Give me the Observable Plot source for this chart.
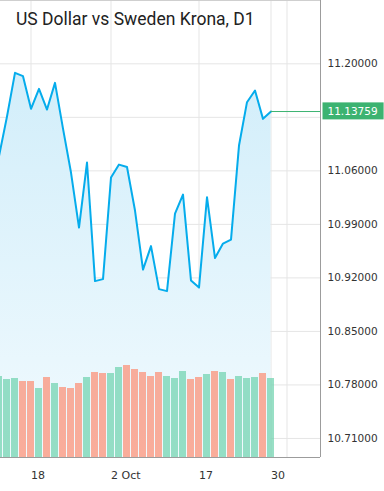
<!DOCTYPE html>
<html><head><meta charset="utf-8">
<script src="https://cdn.jsdelivr.net/npm/d3@7"></script>
<script src="https://cdn.jsdelivr.net/npm/@observablehq/plot@0.6"></script>
<style>
html,body{margin:0;padding:0;background:#fff;}
#chart{position:relative;width:384px;height:491px;overflow:hidden;}
#chart svg{position:absolute;left:0;top:0;}
#title{position:absolute;left:16px;top:9px;font-family:Roboto;font-size:17.5px;line-height:20px;color:#222;white-space:nowrap;z-index:5;}
</style></head><body>
<div id="chart"><div id="title"></div></div>
<script>
// ---- data (USD/SEK daily) ----
const dates = ["2023-09-12","2023-09-13","2023-09-14","2023-09-15","2023-09-18","2023-09-19","2023-09-20","2023-09-21","2023-09-22",
  "2023-09-25","2023-09-26","2023-09-27","2023-09-28","2023-09-29","2023-10-02","2023-10-03","2023-10-04","2023-10-05","2023-10-06",
  "2023-10-09","2023-10-10","2023-10-11","2023-10-12","2023-10-13","2023-10-16","2023-10-17","2023-10-18","2023-10-19","2023-10-20",
  "2023-10-23","2023-10-24","2023-10-25","2023-10-26","2023-10-27","2023-10-30"];
const closes = [11.0792,11.1310,11.1882,11.1838,11.1411,11.1673,11.1402,11.1751,11.1153,
  11.0578,10.9858,11.0709,10.9158,10.9184,11.0512,11.0682,11.0650,11.0081,10.9309,
  10.9616,10.9053,10.9027,11.0041,11.0290,10.9165,10.9073,11.0255,10.9459,10.9649,
  10.9701,11.0931,11.1498,11.1651,11.1280,11.13759];
const volumes = [81,78,79,76,76,69,80,74,70,
  69,74,80,85,84,84,90,92,88,85,
  81,85,81,79,86,78,80,83,86,85,
  78,81,79,80,84,79];
const direction = ["up","up","up","down","down","up","down","up","down",
  "down","down","up","down","down","up","up","down","down","down",
  "down","down","up","up","up","down","down","up","down","up",
  "down","up","up","up","down","up"];
const yTicks = [10.71,10.78,10.85,10.92,10.99,11.06,11.13,11.20];
const xTickDates = ["2023-09-18","2023-10-02","2023-10-17","2023-10-30","2023-11-01"];
const xTickLabels = ["18","2 Oct","17","30",""];
const lastPrice = 11.13759;
const title = "US Dollar vs Sweden Krona, D1";

// ---- layout / scales ----
const W = 384, H = 491;
const margins = {marginTop:0, marginRight:64, marginBottom:34, marginLeft:0};
const xDomain = [0.1875, 40.1875];      // trading-day index window
const yDomain = [10.6851, 11.2828];
const volDomain = [0, 457];

const t0 = new Date(dates[0]);
const tradingIndex = s => d3.utcDays(t0, new Date(s)).filter(d => d.getUTCDay() % 6 !== 0).length;
const rows = dates.map((d, k) => ({i: tradingIndex(d), close: closes[k], volume: volumes[k], dir: direction[k]}));
const xTickIdx = xTickDates.map(tradingIndex);
const labelByIdx = new Map(xTickIdx.map((v, k) => [v, xTickLabels[k]]));
const lastIdx = rows[rows.length - 1].i;
// the tick label hidden behind the last-price tag is not drawn
const yLabelTicks = yTicks.filter(v => Math.abs(v - lastPrice) > 0.02);

const grid = "#e5e5e5", border = "#9c9c9c", lineColor = "#05acec", lastColor = "#3cb371";
const upColor = "#6cd2ad", downColor = "#fc8c71";

document.getElementById("title").textContent = title;

const price = Plot.plot({
  width: W, height: H, ...margins,
  style: {fontFamily: "DejaVu Sans", fontSize: "10.5px", color: "#333", background: "transparent", overflow: "visible"},
  x: {domain: xDomain, label: null},
  y: {domain: yDomain, label: null},
  marks: [
    Plot.ruleY(yTicks, {stroke: grid}),
    Plot.ruleX(xTickIdx, {stroke: grid}),
    Plot.areaY(rows, {x: "i", y1: yDomain[0], y2: "close", fill: "#e0f4fb", clip: true}),
    Plot.line(rows, {x: "i", y: "close", stroke: lineColor, strokeWidth: 2, clip: true}),
    Plot.ruleY([lastPrice], {x1: lastIdx, x2: xDomain[1], stroke: lastColor}),
    Plot.ruleX([xDomain[1]], {stroke: border}),
    Plot.ruleY([yDomain[0]], {stroke: border}),
    Plot.ruleY([yDomain[1]], {stroke: "#cfcfcf"}),
    Plot.axisY({anchor: "right", ticks: yLabelTicks, tickSize: 0, tickPadding: 7, tickFormat: d => d.toFixed(5), fill: "#333", label: null}),
    Plot.axisX({ticks: xTickIdx, tickSize: 0, tickPadding: 14, tickFormat: d => labelByIdx.get(d) ?? "", textAnchor: "start", fontSize: 11, fill: "#333", label: null}),
    Plot.text([lastPrice], {x: xDomain[1], y: d => d, dx: 7, textAnchor: "start", fill: "white", text: d => d.toFixed(5)})
  ]
});

const vol = Plot.plot({
  width: W, height: H, ...margins,
  style: {background: "transparent"},
  x: {domain: xDomain, axis: null},
  y: {domain: volDomain, axis: null},
  marks: [
    Plot.rectY(rows.filter(d => d.dir === "up"), {x1: d => d.i - 0.5, x2: d => d.i + 0.5, y1: 0, y2: "volume", fill: upColor, fillOpacity: 0.7, insetLeft: 0.5, insetRight: 0.5, clip: true}),
    Plot.rectY(rows.filter(d => d.dir === "down"), {x1: d => d.i - 0.5, x2: d => d.i + 0.5, y1: 0, y2: "volume", fill: downColor, fillOpacity: 0.7, insetLeft: 0.5, insetRight: 0.5, clip: true})
  ]
});

const chart = document.getElementById("chart");
chart.appendChild(price);
chart.appendChild(vol);

// gradient fill for the area
const NS = "http://www.w3.org/2000/svg";
const defs = document.createElementNS(NS, "defs");
const grad = document.createElementNS(NS, "linearGradient");
grad.setAttribute("id", "priceFill");
grad.setAttribute("x1", "0"); grad.setAttribute("y1", "0"); grad.setAttribute("x2", "0"); grad.setAttribute("y2", "1");
[["0", "#d2eefa"], ["1", "#f1fafe"]].forEach(([o, c]) => {
  const s = document.createElementNS(NS, "stop");
  s.setAttribute("offset", o); s.setAttribute("stop-color", c);
  grad.appendChild(s);
});
defs.appendChild(grad);
price.insertBefore(defs, price.firstChild);
price.querySelectorAll('g[aria-label="area"] path').forEach(p => p.setAttribute("fill", "url(#priceFill)"));

// green tag behind the last-price label
const lastText = Array.from(price.querySelectorAll("text")).find(t => t.textContent === lastPrice.toFixed(5));
if (lastText) {
  const bb = lastText.getBBox();
  const cy = bb.y + bb.height / 2;
  const r = document.createElementNS(NS, "rect");
  r.setAttribute("x", bb.x - 5); r.setAttribute("y", cy - 8.5);
  r.setAttribute("width", bb.width + 11); r.setAttribute("height", 17);
  r.setAttribute("fill", lastColor);
  const tr = lastText.getAttribute("transform");
  if (tr) r.setAttribute("transform", tr);
  lastText.parentNode.insertBefore(r, lastText);
}
</script>
</body></html>
